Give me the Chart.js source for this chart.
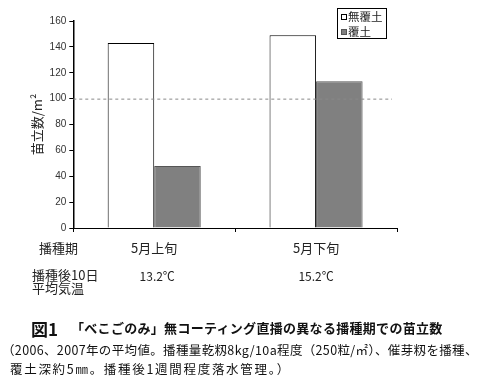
<!DOCTYPE html>
<html>
<head>
<meta charset="utf-8">
<script src="https://cdn.jsdelivr.net/npm/chart.js@4"></script>
<style>
  body { margin: 0; background: #fff; }
  #wrap { position: relative; width: 500px; height: 390px; }
  canvas { position: absolute; left: 0; top: 0; }
  .cap { position: absolute; white-space: nowrap; color: #111; font-family: "Noto Sans CJK JP", sans-serif; }
</style>
</head>
<body>
<div id="wrap">
  <canvas id="chart" width="500" height="390"></canvas>
  <div class="cap" style="left:31px;top:316px;font-size:17px;font-weight:bold;">図1</div>
  <div class="cap" style="left:71px;top:318px;font-size:13px;font-weight:bold;letter-spacing:0.3px;">「べこごのみ」無コーティング直播の異なる播種期での苗立数</div>
  <div class="cap" style="left:2px;top:340px;font-size:12.5px;letter-spacing:0.35px;">（2006、2007年の平均値。播種量乾籾8kg/10a程度（250粒/㎡）、催芽籾を播種、</div>
  <div class="cap" style="left:10px;top:359px;font-size:12.5px;letter-spacing:1.7px;">覆土深約5㎜。播種後1週間程度落水管理。）</div>
</div>
<script>
// data
const periods = ["5月上旬", "5月下旬"];
const temps = ["13.2℃", "15.2℃"];
const noCover = [143, 149];
const cover = [48, 113.5];
const refLine = 100;
const rowLabels = ["播種期", "播種後10日", "平均気温"];

// dashed reference line at 100 + table rows under the axis
const extras = {
  id: "extras",
  afterDatasetsDraw(chart) {
    const { ctx, chartArea, scales } = chart;
    const y = scales.y.getPixelForValue(refLine);
    ctx.save();
    ctx.strokeStyle = "#888";
    ctx.lineWidth = 1;
    ctx.setLineDash([3, 3]);
    ctx.beginPath();
    ctx.moveTo(chartArea.left, y + 0.5);
    ctx.lineTo(chartArea.right - 5, y + 0.5);
    ctx.stroke();
    ctx.restore();
  },
  afterDraw(chart) {
    const { ctx, scales } = chart;
    ctx.save();
    ctx.fillStyle = "#222";
    ctx.textBaseline = "middle";
    ctx.font = "13px 'Noto Sans CJK JP'";
    ctx.textAlign = "left";
    ctx.fillText(rowLabels[0], 39, 248);
    ctx.fillText(rowLabels[1], 32, 275);
    ctx.fillText(rowLabels[2], 32, 288);
    ctx.textAlign = "center";
    periods.forEach((p, i) => {
      const x = scales.x.getPixelForValue(i);
      ctx.font = "13px 'Noto Sans CJK JP'";
      ctx.fillText(p, x, 248);
      ctx.font = "12px 'Noto Sans CJK JP'";
      ctx.fillText(temps[i], x + (i == 0 ? 3 : 0), 276);
    });

    // legend box
    const lx = 337, ly = 8, lw = 49, lh = 30;
    ctx.strokeStyle = "#000";
    ctx.lineWidth = 1;
    ctx.setLineDash([]);
    ctx.strokeRect(lx + 0.5, ly + 0.5, lw, lh);
    ctx.textAlign = "left";
    ctx.font = "11.5px 'Noto Sans CJK JP'";
    chart.data.datasets.forEach((ds, i) => {
      const yy = ly + 9 + i * 15;
      ctx.fillStyle = ds.backgroundColor;
      ctx.fillRect(lx + 4, yy - 3, 6, 6);
      ctx.strokeStyle = ds.borderColor;
      ctx.strokeRect(lx + 4.5, yy - 2.5, 5, 5);
      ctx.fillStyle = "#222";
      ctx.fillText(ds.label, lx + 11, yy);
    });
    ctx.restore();
  }
};

new Chart(document.getElementById("chart"), {
  type: "bar",
  data: {
    labels: periods,
    datasets: [
      { label: "無覆土", data: noCover, backgroundColor: "#ffffff", borderColor: "#000", borderWidth: 1 },
      { label: "覆土", data: cover, backgroundColor: "#808080", borderColor: "#555", borderWidth: 1 }
    ]
  },
  options: {
    responsive: false,
    animation: false,
    layout: { padding: { left: 29, top: 21, right: 103, bottom: 158 } },
    datasets: { bar: { categoryPercentage: 0.575, barPercentage: 1 } },
    plugins: { legend: { display: false }, tooltip: { enabled: false } },
    scales: {
      x: {
        offset: true,
        grid: { offset: true, drawOnChartArea: false, drawTicks: true, tickLength: 4, color: "#000" },
        border: { display: true, color: "#000" },
        ticks: { display: false }
      },
      y: {
        min: 0,
        max: 160,
        ticks: { stepSize: 20, color: "#333", font: { family: "Arial, 'Liberation Sans'", size: 10 }, padding: 3 },
        grid: { drawOnChartArea: false, drawTicks: true, tickLength: 4, color: "#000" },
        border: { display: true, color: "#000", width: 1.5 },
        title: { display: true, text: "苗立数/m²", color: "#222", font: { family: "'Noto Sans CJK JP'", size: 13 }, padding: { top: 0, bottom: 2 } }
      }
    }
  },
  plugins: [extras]
});
</script>
</body>
</html>
